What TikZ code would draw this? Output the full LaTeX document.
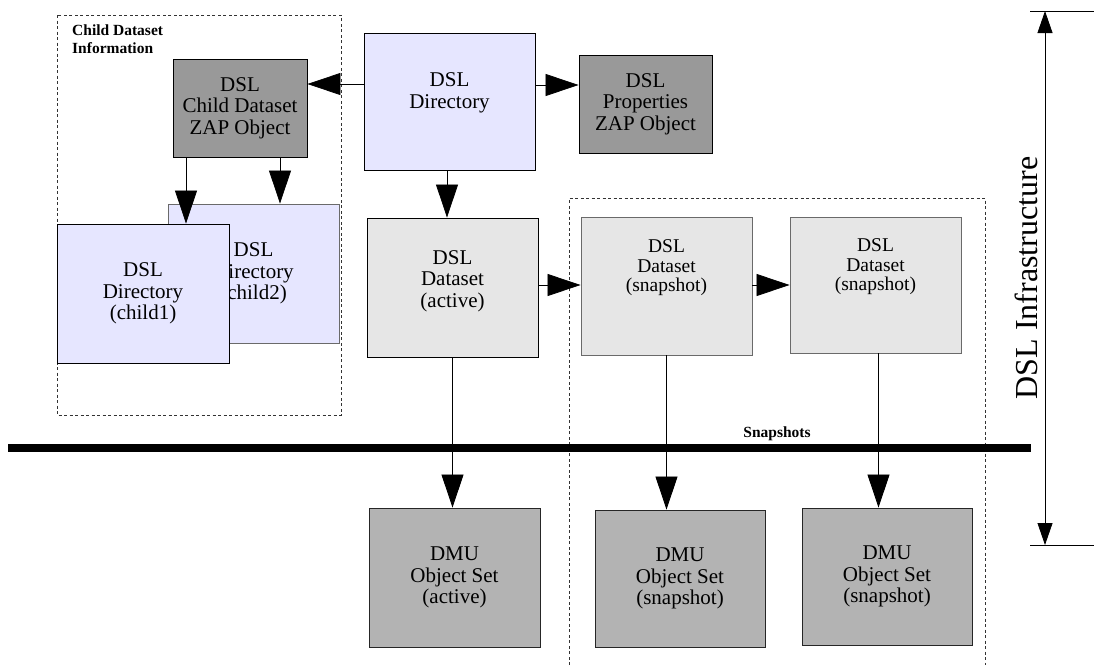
\documentclass[tikz,border=0pt]{standalone}
\usepackage{fontspec}
\setmainfont{Liberation Serif}
\usetikzlibrary{arrows.meta}
\definecolor{lav}{HTML}{E6E6FF}
\definecolor{lgray}{HTML}{E6E6E6}
\definecolor{zapgray}{HTML}{999999}
\definecolor{dmugray}{HTML}{B3B3B3}
\definecolor{edgegray}{HTML}{6A6A6A}
\begin{document}
\begin{tikzpicture}[x=1pt,y=-1pt,
  box/.style={draw=black, line width=0.9pt, align=center, inner sep=0pt,
    font=\fontsize{21}{21.5}\selectfont},
  txt/.style={align=center, inner sep=0pt, font=\fontsize{21}{21.5}\selectfont},
  smalltxt/.style={align=center, inner sep=0pt, font=\fontsize{19.5}{19.5}\selectfont},
  zapbox/.style={box, fill=zapgray},
  dirbox/.style={box, fill=lav},
  dsbox/.style={box, fill=lgray},
  dmubox/.style={box, fill=dmugray, draw=black!85},
  conn/.style={line width=0.8pt, -{Triangle[length=33pt,width=22pt]}},
  group/.style={draw=black!80, line width=0.7pt, dash pattern=on 3pt off 2.5pt},
  lbl/.style={font=\fontsize{15.5}{18}\selectfont\bfseries, align=left, inner sep=0pt},
  bigtitle/.style={font=\fontsize{32}{36}\selectfont, inner sep=0pt}]
\useasboundingbox (0,0) rectangle (1094,665);

% group outlines
\draw[group] (57,15) rectangle (341,415);
\draw[group] (569,665) -- (569,198) -- (985,198) -- (985,665);
\node[lbl, anchor=north west] (cdi) at (72,25) {Child Dataset\\Information};

% boxes
\node[zapbox, minimum width=134, minimum height=98] (zapc) at (240,108) {DSL\\Child Dataset\\ZAP Object};
\node[dirbox, minimum width=171, minimum height=137] (dir) at (449.5,101.5) {};
\node[txt] (dirt) at (449.5,93) {DSL\\Directory};
\node[zapbox, minimum width=133, minimum height=98] (props) at (645.5,104) {DSL\\Properties\\ZAP Object};
\node[dirbox, draw=edgegray, minimum width=171, minimum height=139] (child2) at (253.5,273.5) {DSL\\Directory\\(child2)};
\node[dirbox, minimum width=172, minimum height=139] (child1) at (143,293.5) {DSL\\Directory\\(child1)};
\node[dsbox, minimum width=171, minimum height=139] (active) at (452.5,287.5) {};
\node[txt] (activet) at (452.5,281) {DSL\\Dataset\\(active)};
\node[dsbox, draw=edgegray, minimum width=171, minimum height=138] (snap1) at (666.5,286) {};
\node[smalltxt] (snap1t) at (666.5,268) {DSL\\Dataset\\(snapshot)};
\node[dsbox, draw=edgegray, minimum width=171, minimum height=136] (snap2) at (875.5,285) {};
\node[smalltxt] (snap2t) at (875.5,267) {DSL\\Dataset\\(snapshot)};
\node[dmubox, minimum width=171, minimum height=139] (dmua) at (454.5,577.5) {DMU\\Object Set\\(active)};
\node[dmubox, minimum width=170, minimum height=137] (dmus1) at (680,578.5) {DMU\\Object Set\\(snapshot)};
\node[dmubox, minimum width=170, minimum height=137] (dmus2) at (887,576.5) {DMU\\Object Set\\(snapshot)};

% snapshots divider
\draw[line width=7.5pt] (8,448) -- (1031,448);
\node[lbl, anchor=base] (snaplbl) at (777,437) {Snapshots};

% connectors
\draw[conn] ([yshift=17.5pt]dir.west) -- ([yshift=17.5pt]dir.west -| zapc.east);
\draw[conn] ([yshift=16.5pt]dir.east) -- ([yshift=16.5pt]dir.east -| props.west);
\draw[conn] ([xshift=-54pt]zapc.south) -- ([xshift=-54pt]zapc.south |- child1.north);
\draw[conn] ([xshift=40pt]zapc.south) -- ([xshift=40pt]zapc.south |- child2.north);
\draw[conn] ([xshift=-2.5pt]dir.south) -- ([xshift=-2.5pt]dir.south |- active.north);
\draw[conn] ([yshift=2.5pt]active.east) -- ([yshift=2.5pt]active.east -| snap1.west);
\draw[conn] ([yshift=1pt]snap1.east) -- ([yshift=1pt]snap1.east -| snap2.west);
\draw[conn] (active.south) -- (active.south |- dmua.north);
\draw[conn] (snap1.south) -- (snap1.south |- dmus1.north);
\draw[conn] ([xshift=3pt]snap2.south) -- ([xshift=3pt]snap2.south |- dmus2.north);

% DSL Infrastructure extent
\coordinate (itop) at (1045,11);
\coordinate (ibot) at (1045,545);
\draw[line width=0.8pt] (1030,11) -- (1094,11);
\draw[line width=0.8pt] (1030,545) -- (1094,545);
\draw[line width=0.8pt, {Triangle[length=22pt,width=15pt]}-{Triangle[length=22pt,width=15pt]}] (itop) -- (ibot);
\node[bigtitle, rotate=90, anchor=base] (infra) at (1037,278) {DSL Infrastructure};
\end{tikzpicture}
\end{document}
